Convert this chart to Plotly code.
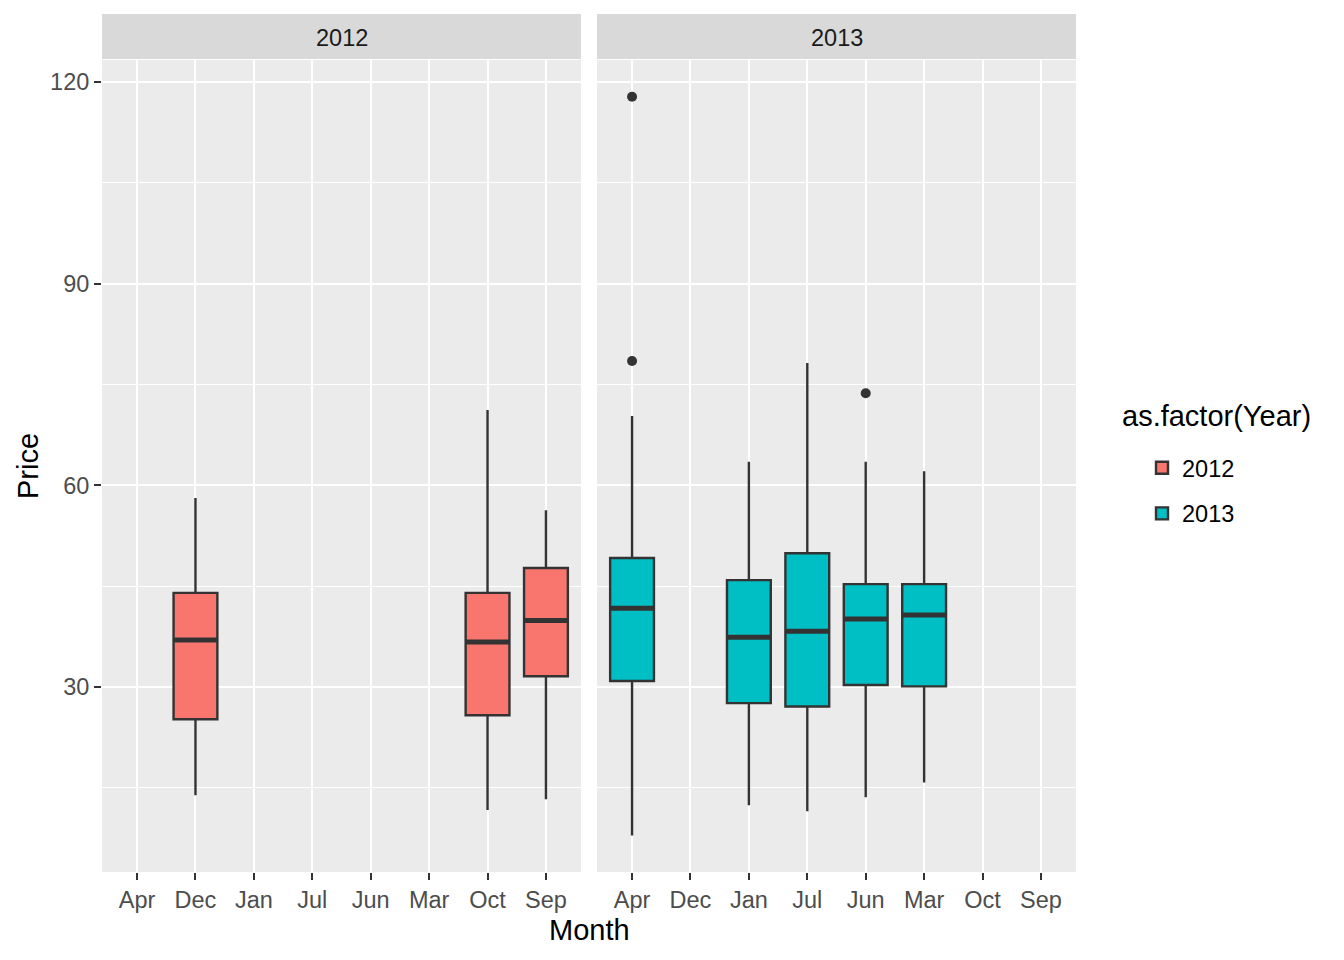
import plotly.graph_objects as go

months = ["Apr", "Dec", "Jan", "Jul", "Jun", "Mar", "Oct", "Sep"]

m2012 = ["Dec", "Oct", "Sep"]
lo2012 = [13.9, 11.7, 13.3]
q1_2012 = [25.2, 25.8, 31.6]
med2012 = [37.0, 36.7, 39.9]
q3_2012 = [44.0, 44.0, 47.7]
hi2012 = [58.1, 71.2, 56.3]

m2013 = ["Apr", "Jan", "Jul", "Jun", "Mar"]
lo2013 = [7.9, 12.4, 11.5, 13.6, 15.8]
q1_2013 = [30.9, 27.6, 27.1, 30.3, 30.1]
med2013 = [41.7, 37.4, 38.3, 40.1, 40.7]
q3_2013 = [49.2, 45.9, 49.9, 45.3, 45.3]
hi2013 = [70.3, 63.5, 78.2, 63.5, 62.1]

out_month_2013 = ["Apr", "Apr", "Jun"]
out_price_2013 = [117.8, 78.5, 73.7]

years = ["2012", "2013"]
colors = ["#F8766D", "#00BFC4"]
BW = 0.75

def idx(ms):
    return [months.index(m) for m in ms]

fig = go.Figure()

series = [
    (m2012, lo2012, q1_2012, med2012, q3_2012, hi2012, "x", "y"),
    (m2013, lo2013, q1_2013, med2013, q3_2013, hi2013, "x2", "y2"),
]
for k, (ms, lo, q1, med, q3, hi, xa, ya) in enumerate(series):
    xs = idx(ms)
    fig.add_trace(go.Box(
        x=xs, q1=q1, median=med, q3=q3, lowerfence=lo, upperfence=hi,
        width=BW, whiskerwidth=0, boxpoints=False,
        fillcolor=colors[k], line=dict(color="#333333", width=2.4),
        name=years[k], legendgroup=years[k], xaxis=xa, yaxis=ya, showlegend=True,
    ))
    mx, my = [], []
    for xi, m in zip(xs, med):
        mx += [xi - BW / 2, xi + BW / 2, None]
        my += [m, m, None]
    fig.add_trace(go.Scatter(
        x=mx, y=my, mode="lines", line=dict(color="#333333", width=5),
        xaxis=xa, yaxis=ya, showlegend=False, hoverinfo="skip",
        legendgroup=years[k],
    ))

fig.add_trace(go.Scatter(
    x=idx(out_month_2013), y=out_price_2013, mode="markers",
    marker=dict(color="#333333", size=10), xaxis="x2", yaxis="y2",
    showlegend=False, legendgroup="2013",
))

# page is offset by 8px; figure is 8px smaller and margins shifted
W, H = 1336, 952
L, T = 94, 6
PW, PH = 974, 858
R = W - L - PW
B = H - T - PH

def px_x(sx):
    return (sx - 8 - L) / PW

def px_y(sy):
    return (T + PH - (sy - 8)) / PH

ytop = (872 - 60) / 858
yrange = [2.48, 123.27]
grid_major = 2.2
grid_minor = 1.1

xcommon = dict(
    tickmode="array", tickvals=list(range(len(months))), ticktext=months,
    range=[-0.6, 7.6], showgrid=True, gridcolor="white", gridwidth=grid_major,
    zeroline=False, ticks="outside", ticklen=7, tickwidth=2, tickcolor="#333333",
    tickfont=dict(family="Liberation Sans, Arial", size=23.5, color="#4D4D4D"),
    showline=False, fixedrange=True,
)
ycommon = dict(
    range=yrange, tickmode="array", tickvals=[30, 60, 90, 120],
    showgrid=True, gridcolor="white", gridwidth=grid_major, zeroline=False,
    minor=dict(tickvals=[15, 45, 75, 105], showgrid=True, gridcolor="white",
               gridwidth=grid_minor, ticks=""),
    domain=[0, ytop], showline=False,
)

fig.update_layout(
    width=W, height=H, autosize=False,
    margin=dict(l=L, r=R, t=T, b=B),
    paper_bgcolor="white", plot_bgcolor="#EBEBEB",
    font=dict(family="Liberation Sans, Arial", color="#1A1A1A"),
    xaxis=dict(domain=[0, 479 / 974], anchor="y", **xcommon),
    xaxis2=dict(domain=[495 / 974, 1], anchor="y2", **xcommon),
    yaxis=dict(anchor="x", ticks="outside", ticklen=7, tickwidth=2,
               tickcolor="#333333",
               tickfont=dict(family="Liberation Sans, Arial", size=23.5, color="#4D4D4D"),
               **ycommon),
    yaxis2=dict(anchor="x2", matches="y", showticklabels=False, ticks="", **ycommon),
    boxmode="overlay",
    showlegend=True,
    legend=dict(
        x=px_x(1142), xanchor="left", y=px_y(446), yanchor="top",
        font=dict(size=23.5, color="black"), bgcolor="rgba(0,0,0,0)",
        traceorder="grouped", tracegroupgap=12,
    ),
)

shapes = []
annotations = []
for k, (x0, x1) in enumerate([(0, 479 / 974), (495 / 974, 1)]):
    shapes.append(dict(type="rect", xref="paper", yref="paper", x0=x0, x1=x1,
                       y0=(872 - 59) / 858, y1=1, fillcolor="#D9D9D9",
                       line=dict(width=0), layer="below"))
    annotations.append(dict(text=years[k], xref="paper", yref="paper",
                            x=(x0 + x1) / 2, y=(872 - 38) / 858, showarrow=False,
                            font=dict(size=23.5, color="#1A1A1A"),
                            xanchor="center", yanchor="middle"))
annotations.append(dict(text="Month", xref="paper", yref="paper", x=0.5,
                        y=px_y(930), showarrow=False,
                        font=dict(size=29, color="black"),
                        xanchor="center", yanchor="middle"))
annotations.append(dict(text="Price", xref="paper", yref="paper",
                        x=px_x(28), y=px_y(466), showarrow=False,
                        textangle=-90, font=dict(size=29, color="black"),
                        xanchor="center", yanchor="middle"))
annotations.append(dict(text="as.factor(Year)", xref="paper", yref="paper",
                        x=px_x(1120), y=px_y(416), showarrow=False,
                        font=dict(size=29, color="black"),
                        xanchor="left", yanchor="middle"))
fig.update_layout(shapes=shapes, annotations=annotations)

fig.write_html("out.html")
